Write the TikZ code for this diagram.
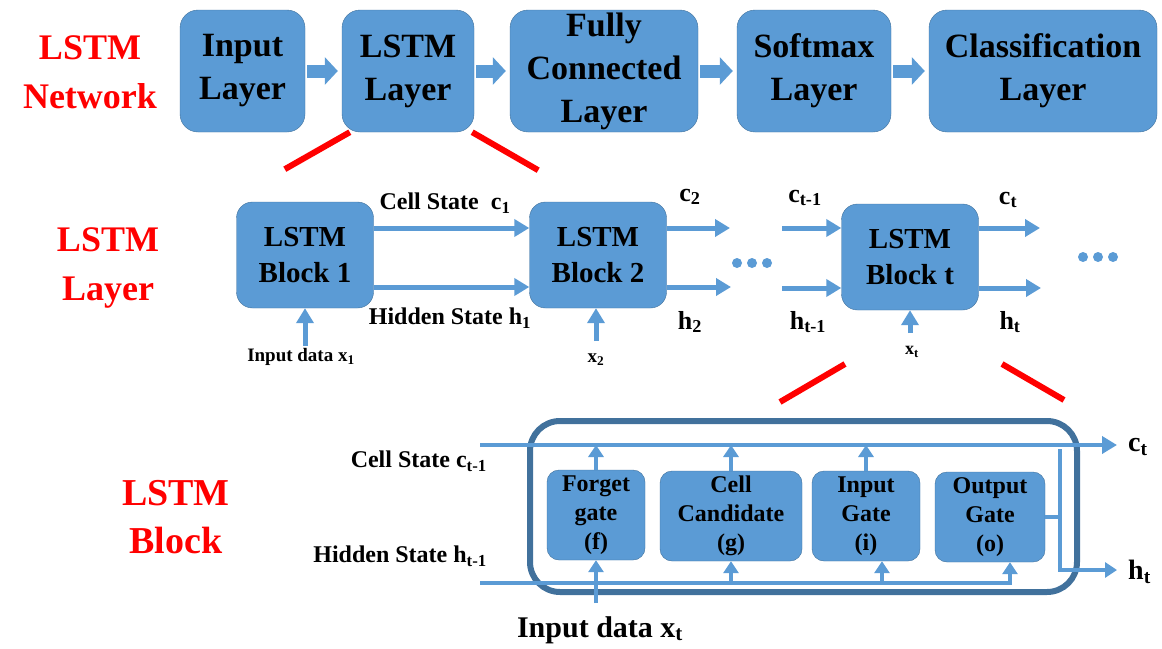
\documentclass[tikz,border=0pt]{standalone}
\usepackage{fontspec}
\setmainfont{Liberation Serif}
\usetikzlibrary{arrows.meta,positioning}
\definecolor{boxblue}{HTML}{5B9BD5}
\definecolor{edgeblue}{HTML}{41719C}
\newcommand{\fsz}[2]{\fontsize{#1}{#2}\selectfont\bfseries}
\newcommand{\lsub}[1]{\textsubscript{#1}}

\begin{document}
\begin{tikzpicture}[x=1pt,y=-1pt,
  layer/.style={rectangle,rounded corners=18pt,draw=edgeblue,fill=boxblue,
                minimum height=122pt,inner sep=1pt,align=center,font=\fsz{34}{43}},
  blk/.style={rectangle,rounded corners=16pt,draw=edgeblue,fill=boxblue,
              minimum width=137pt,minimum height=106pt,align=center,font=\fsz{29}{36}},
  gate/.style={rectangle,rounded corners=12pt,draw=edgeblue,fill=boxblue,
               minimum height=90pt,inner sep=1pt,align=center,font=\fsz{24}{29}},
  fat/.style={line width=13pt,boxblue,-{Triangle[length=13pt,width=27pt]},
              shorten <=2pt,shorten >=4pt},
  arr/.style={line width=5pt,boxblue,-{Triangle[length=15pt,width=17pt]}},
  thinarr/.style={line width=4pt,boxblue,-{Triangle[length=12pt,width=15pt]}},
  lbl/.style={font=\fsz{24}{28},inner sep=0pt},
  title/.style={text=red,align=center,font=\fsz{36}{49}},
  zoomline/.style={red,line width=6pt}
]
  \useasboundingbox (0,0) rectangle (1162,648);

  \node[title] (net) at (90,72) {LSTM\\Network};
  \node[layer,minimum width=125pt] (inp)  at (242.5,71) {Input\\Layer};
  \node[layer,minimum width=132pt] (lstm) at (408,71)   {LSTM\\Layer};
  \node[layer,minimum width=188pt] (fc)   at (604,71)   {Fully\\Connected\\Layer};
  \node[layer,minimum width=154pt] (soft) at (814,71)   {Softmax\\Layer};
  \node[layer,minimum width=228pt] (cls)  at (1043,71)  {Classification\\Layer};

  \draw[fat] (inp)--(lstm);
  \draw[fat] (lstm)--(fc);
  \draw[fat] (fc)--(soft);
  \draw[fat] (soft)--(cls);

  \draw[zoomline] ([xshift=8pt]lstm.south west) -- +(-65,37);
  \draw[zoomline] ([xshift=-2pt]lstm.south east) -- +(66,38);

  \node[title] (lay) at (108,268) {LSTM\\Layer};
  \node[blk] (b1) at (305,255) {LSTM\\Block 1};
  \node[blk] (b2) at (598,255) {LSTM\\Block 2};
  \node[blk] (bt) at (910,257) {LSTM\\Block t};

  \draw[arr] ([yshift=27pt]b1.east) -- ([yshift=27pt]b2.west);
  \draw[arr] ([yshift=-32pt]b1.east) -- ([yshift=-32pt]b2.west);
  \node[lbl] (cs1) at (445,203) {Cell State\ \ c\lsub{1}};
  \node[lbl] (hs1) at (450,318) {Hidden State h\lsub{1}};
  \coordinate (x1s) at (305,346);
  \draw[arr] (x1s) -- (b1.south);
  \node[lbl,font=\fsz{19}{22}] (x1l) at (301,357) {Input data x\lsub{1}};

  \coordinate (c2e) at (730,228);
  \coordinate (h2e) at (731,287);
  \draw[arr] (b2.east |- c2e) -- (c2e);
  \draw[arr] (b2.east |- h2e) -- (h2e);
  \node[lbl,font=\fsz{26}{28}] (c2l) at (690,197) {c\lsub{2}};
  \node[lbl,font=\fsz{26}{28}] (h2l) at (690,322) {h\lsub{2}};
  \coordinate (x2s) at (596,341);
  \draw[arr] (x2s) -- (x2s |- b2.south);
  \node[lbl,font=\fsz{19}{22}] (x2l) at (596,360) {x\lsub{2}};
  \foreach \k in {0,1,2} \fill[boxblue] (737+15*\k,263) circle (5pt);

  \coordinate (ct1s) at (782,228);
  \coordinate (ht1s) at (782,288);
  \draw[arr] (ct1s) -- (ct1s -| bt.west);
  \draw[arr] (ht1s) -- (ht1s -| bt.west);
  \node[lbl,font=\fsz{26}{28}] (ct1l) at (805,198) {c\lsub{t-1}};
  \node[lbl,font=\fsz{26}{28}] (ht1l) at (808,322) {h\lsub{t-1}};
  \coordinate (cte) at (1040,228);
  \coordinate (hte) at (1041,288);
  \draw[arr] (bt.east |- cte) -- (cte);
  \draw[arr] (bt.east |- hte) -- (hte);
  \node[lbl,font=\fsz{26}{28}] (ctl) at (1008,200) {c\lsub{t}};
  \node[lbl,font=\fsz{26}{28}] (htl) at (1010,322) {h\lsub{t}};
  \coordinate (xts) at (910,333);
  \draw[arr] (xts) -- (bt.south);
  \node[lbl,font=\fsz{18}{22}] (xtl) at (912,352) {x\lsub{t}};
  \foreach \k in {0,1,2} \fill[boxblue] (1083+15*\k,257) circle (5pt);

  \draw[zoomline] (780,402) -- (845,364);
  \draw[zoomline] (1002,364) -- (1064,400);

  \node[title,font=\fsz{38}{48}] (blkt) at (176,517) {LSTM\\Block};
  \node[draw=edgeblue,line width=6pt,rounded corners=30pt,
        minimum width=547pt,minimum height=171pt] (frame) at (803.5,506.5) {};

  \node[gate,minimum width=98pt]  (fg) at (596,515) {Forget\\gate\\(f)};
  \node[gate,minimum width=142pt] (cc) at (731,516) {Cell\\Candidate\\(g)};
  \node[gate,minimum width=108pt] (ig) at (866,516) {Input\\Gate\\(i)};
  \node[gate,minimum width=110pt] (og) at (990,517) {Output\\Gate\\(o)};

  \coordinate (cin)  at (480,445);
  \coordinate (cout) at (1117,445);
  \coordinate (hin)  at (480,583);
  \coordinate (xin)  at (596,603);
  \coordinate (igin) at ([xshift=16pt]ig.south);
  \coordinate (ogin) at ([xshift=20pt]og.south);
  \coordinate (hbus) at (1060,449);
  \coordinate (hout) at (1117,570);

  \draw[arr,line width=4.5pt] (cin) -- (cout);
  \draw[thinarr] (hin) -| (ogin);
  \draw[thinarr] (fg.north) -- (fg.north |- cin);
  \draw[thinarr] (cc.north) -- (cc.north |- cin);
  \draw[thinarr] (ig.north) -- (ig.north |- cin);
  \draw[thinarr] (cc.south |- hin) -- (cc.south);
  \draw[thinarr] (igin |- hin) -- (igin);
  \draw[thinarr] (xin) -- (fg.south);
  \draw[boxblue,line width=3.5pt] (og.east) -- (og.east -| hbus);
  \draw[thinarr] (hbus) |- (hout);

  \node[lbl,anchor=east] (cinl) at (487,461) {Cell State c\lsub{t-1}};
  \node[lbl,anchor=east] (hinl) at (487,556) {Hidden State h\lsub{t-1}};
  \node[lbl,font=\fsz{30}{34}] (xinl) at (600,630) {Input data x\lsub{t}};
  \node[lbl,font=\fsz{28}{30},anchor=west] (coutl) at (1128,447) {c\lsub{t}};
  \node[lbl,font=\fsz{28}{30},anchor=west] (houtl) at (1128,572) {h\lsub{t}};
\end{tikzpicture}
\end{document}
